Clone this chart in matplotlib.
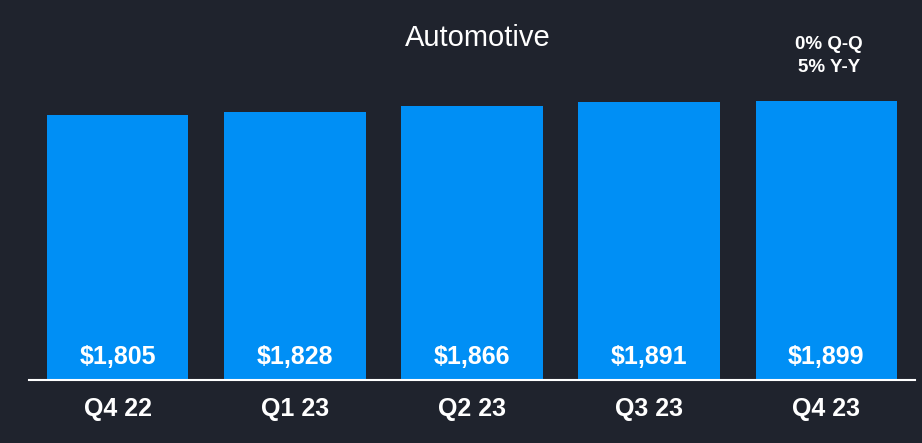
import matplotlib.pyplot as plt

quarters = ["Q4 22", "Q1 23", "Q2 23", "Q3 23", "Q4 23"]
revenue = [1805, 1828, 1866, 1891, 1899]
labels = ["$1,805", "$1,828", "$1,866", "$1,891", "$1,899"]

bg = "#1f232d"
blue = "#008ff5"

plt.rcParams['font.family'] = ['Liberation Sans', 'DejaVu Sans']

fig = plt.figure(figsize=(9.22, 4.43), dpi=100, facecolor=bg)
ax = fig.add_axes([29 / 922, 63 / 443, 886 / 922, 380 / 443])
ax.set_facecolor(bg)

x = range(len(quarters))
ax.bar(x, revenue, width=0.8, color=blue)
ax.set_xlim(-0.5, 4.5)
ax.set_ylim(0, 2588)

for i, lab in enumerate(labels):
    ax.text(i, 155, lab, ha="center", va="center", color="white",
            fontsize=18, fontweight="bold")

for s in ["top", "right", "left"]:
    ax.spines[s].set_visible(False)
ax.spines["bottom"].set_color("white")
ax.spines["bottom"].set_linewidth(1.5)
ax.set_yticks([])
ax.set_xticks(list(x))
ax.set_xticklabels(quarters, color="white", fontsize=18, fontweight="bold")
ax.tick_params(axis="x", length=0, pad=12)

fig.text(478 / 922, 1 - 38 / 443, "Automotive", ha="center", va="center",
         color="white", fontsize=21)
fig.text(829 / 922, 1 - 56 / 443, "0% Q-Q\n5% Y-Y", ha="center", va="center",
         color="white", fontsize=13.5, fontweight="bold", linespacing=1.45)

fig.savefig("out.png", dpi=100, facecolor=bg)
